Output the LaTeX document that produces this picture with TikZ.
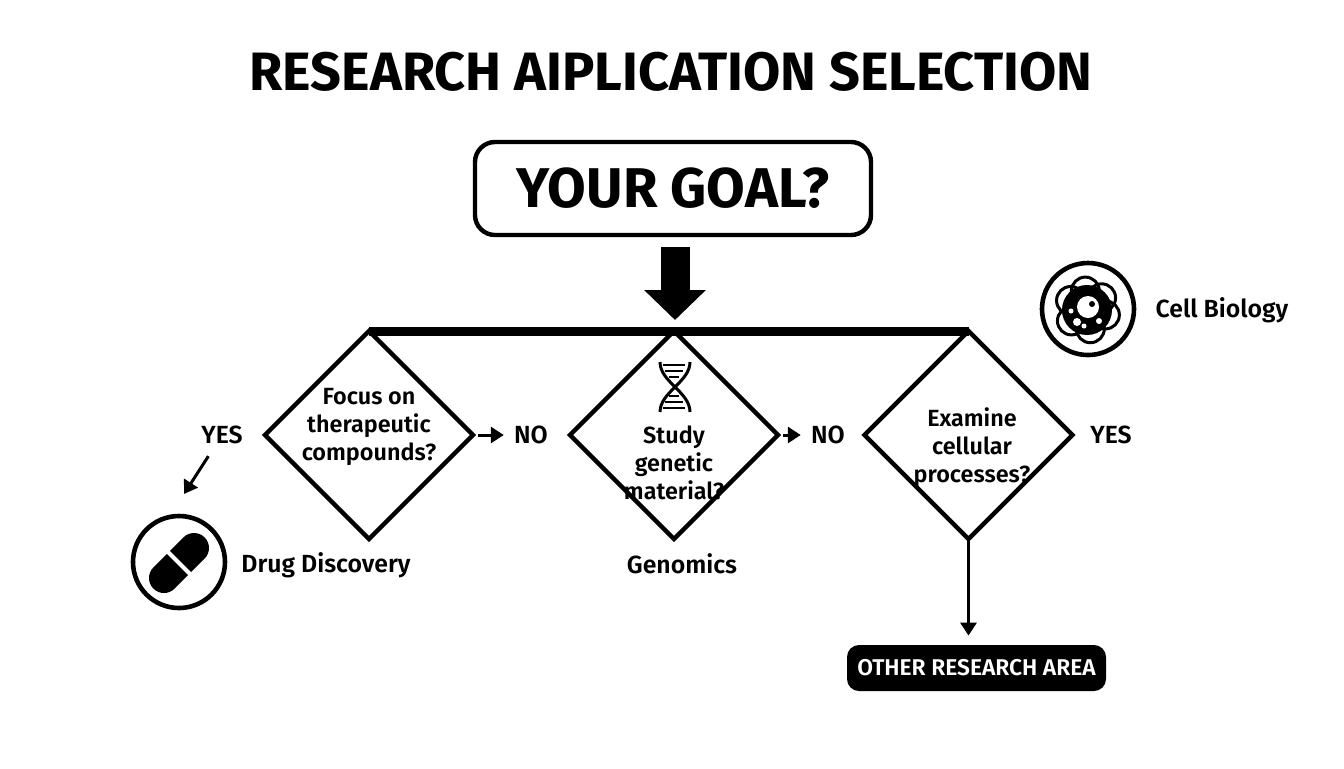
\documentclass[tikz,border=0pt]{standalone}
\usepackage{fontspec}
\setmainfont{Fira Sans}
\newfontfamily\semifont{Fira Sans SemiBold}
\usetikzlibrary{shapes.geometric,arrows.meta,positioning}
\tikzset{>=Triangle}
\tikzstyle{decision} = [draw, diamond, line width=2.2pt, inner sep=0pt, outer sep=0pt, minimum width=104pt, minimum height=104pt]
\tikzstyle{label} = [inner sep=0pt, font=\semifont\fontsize{12.4}{14}\selectfont]
\tikzstyle{query} = [label, align=center, font=\semifont\fontsize{11.7}{14}\selectfont]
\tikzstyle{iconring} = [draw, circle, line width=2.3pt, inner sep=0pt, minimum size=46pt]
\tikzstyle{line} = [draw, line width=1.5pt, -{Triangle[length=6.5pt,width=8pt]}]
\begin{document}
\begin{tikzpicture}[x=0.5pt, y=-0.5pt]
      \useasboundingbox (0,0) rectangle (1344,768);
      \node [font=\bfseries\fontsize{27}{32}\selectfont, inner sep=0pt] (Title) at (671,72) {RESEARCH AIPLICATION SELECTION};
      \node [draw, line width=2.2pt, rounded corners=10pt, minimum width=198pt, minimum height=46.5pt, inner sep=0pt,
        font=\bfseries\fontsize{28}{32}\selectfont] (Goal) at (673,188.5) {YOUR GOAL?};
      %% Decisions
      \node [decision] (D1) at (369,435) {};
      \node [decision] (D2) at (674,435) {};
      \node [decision] (D3) at (968.5,435) {};
      \coordinate (Hub) at (675,331);
      \node [query] (Q1) at (369,427) {Focus on\\[0pt]therapeutic\\[0pt]compounds?};
      \node [query] (Q2) at (674,463) {Study\\[0pt]genetic\\[0pt]material?};
      \node [query] (Q3) at (972,448) {Examine\\[0pt]cellular\\[0pt]processes?};
      \node [label] (Yes1) at (222,435) {YES};
      \node [label] (No1) at (531,435) {NO};
      \node [label] (No2) at (828,435) {NO};
      \node [label] (Yes2) at (1111,435) {YES};
      \coordinate (YesTip) at (184,494);
      %% Outcomes
      \node [iconring] (Pill) at (179,562) {};
      \node [iconring] (Cell) at (1088,309) {};
      \node [label] (Drug) at (326,565) {Drug Discovery};
      \node [label] (Genomics) at (682,564) {Genomics};
      \node [label] (CellText) at (1222,310) {Cell Biology};
      \node [fill=black, text=white, rounded corners=6pt, minimum width=129.5pt, minimum height=23pt, inner sep=0pt,
        font=\semifont\fontsize{11.4}{14}\selectfont] (Other) at (976.5,668) {OTHER RESEARCH AREA};
      %% Flows
      \draw [line width=4.5pt] (D1.north) -- (D3.north);
      \draw [line width=14.5pt, -{Triangle[length=15pt,width=30pt]}, shorten <=5pt, shorten >=5.5pt] (Goal.south -| Hub) -- (Hub);
      \path [line, shorten >=5pt, shorten <=2.5pt] (D1.east) -- (No1.west);
      \path [line, shorten >=5pt, shorten <=2.5pt] (D2.east) -- (No2.west);
      \path [line, shorten <=7pt] (Yes1) -- (YesTip);
      \path [line, shorten >=4.5pt] (D3.south) -- (D3.south |- Other.north);
      %% Capsule
      \draw [line width=15pt, line cap=round] (164,578) -- (194,548);
      \draw [white, line width=2pt] (168,552) -- (190,574);
      %% Helix
      \draw [line width=1.5pt] (660,362) .. controls (660,382) and (690,392) .. (690,412);
      \draw [line width=1.5pt] (690,362) .. controls (690,382) and (660,392) .. (660,412);
      \foreach \yy/\ww in {365/11, 371/9, 377/5, 396/5, 402/9, 408/11}
        \draw [line width=1pt] (674-\ww,\yy) -- (674+\ww,\yy);
      %% Cell
      \foreach \aa in {265,320,15,80,145,210}
        \draw [line width=1.5pt] (1087,310) ++(\aa:19) circle (14);
      \fill (1087,310) circle (25);
      \fill [white] (1088,307) circle (11);
      \fill (1092,304) circle (3);
      \foreach \xx/\yy/\rr in {1071/311/2.5, 1077/322/4, 1084/326/2.5, 1099/321/3}
        \fill [white] (\xx,\yy) circle (\rr);
    \end{tikzpicture}
\end{document}
